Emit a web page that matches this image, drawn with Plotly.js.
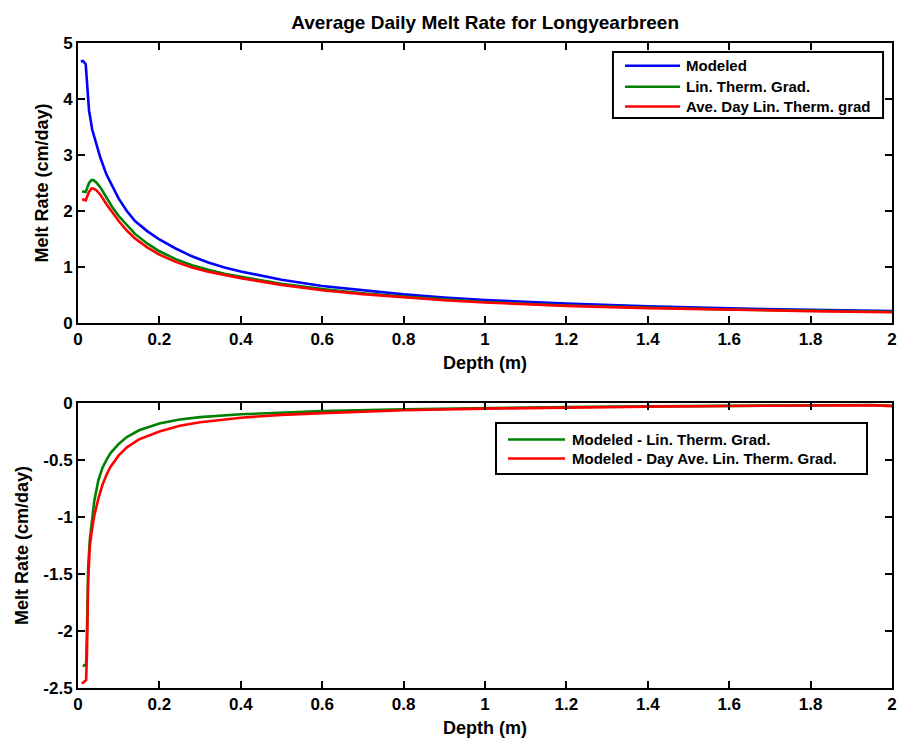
<!DOCTYPE html>
<html>
<head>
<meta charset="utf-8">
<script src="https://cdn.plot.ly/plotly-3.0.1.min.js"></script>
<style>html,body{margin:0;padding:0;background:#fff;}#chart{width:900px;height:740px;}</style>
</head>
<body>
<div id="chart"></div>
<script>
// ---- Top panel data (Melt rate, cm/day) ----
const depthModeled = [0.007, 0.012, 0.019, 0.022, 0.027, 0.035, 0.045, 0.055, 0.07, 0.085, 0.1, 0.12, 0.14, 0.17, 0.2, 0.24, 0.28, 0.32, 0.36, 0.4, 0.5, 0.6, 0.7, 0.8, 0.9, 1.0, 1.2, 1.4, 1.6, 1.8, 2.0];
const modeled = [4.67, 4.68, 4.62, 4.3, 3.8, 3.45, 3.18, 2.95, 2.65, 2.42, 2.22, 2.0, 1.82, 1.64, 1.49, 1.33, 1.19, 1.08, 0.99, 0.92, 0.77, 0.66, 0.58, 0.51, 0.455, 0.41, 0.345, 0.295, 0.26, 0.235, 0.21];

const depthLin = [0.01, 0.014, 0.019, 0.022, 0.027, 0.033, 0.038, 0.045, 0.055, 0.07, 0.085, 0.1, 0.12, 0.14, 0.17, 0.2, 0.24, 0.28, 0.32, 0.36, 0.4, 0.5, 0.6, 0.7, 0.8, 0.9, 1.0, 1.2, 1.4, 1.6, 1.8, 2.0];
const linTherm = [2.35, 2.34, 2.34, 2.4, 2.5, 2.55, 2.55, 2.51, 2.42, 2.24, 2.06, 1.91, 1.74, 1.59, 1.42, 1.28, 1.14, 1.03, 0.95, 0.88, 0.825, 0.7, 0.605, 0.53, 0.47, 0.42, 0.375, 0.31, 0.27, 0.24, 0.22, 0.2];
const aveDayLin = [2.21, 2.2, 2.19, 2.25, 2.34, 2.4, 2.4, 2.37, 2.29, 2.12, 1.96, 1.82, 1.65, 1.51, 1.35, 1.22, 1.09, 0.99, 0.915, 0.855, 0.8, 0.68, 0.585, 0.515, 0.455, 0.405, 0.365, 0.305, 0.265, 0.235, 0.21, 0.19];

// ---- Bottom panel data (differences, cm/day) ----
const depthDiffLin = [0.012, 0.016, 0.02, 0.022, 0.025, 0.029, 0.034, 0.04, 0.05, 0.06, 0.07, 0.08, 0.1, 0.12, 0.15, 0.2, 0.25, 0.3, 0.4, 0.5, 0.6, 0.8, 1.0, 1.2, 1.4, 1.6, 1.8, 1.95, 2.0];
const diffLin = [-2.31, -2.3, -2.29, -2.0, -1.44, -1.2, -1.03, -0.86, -0.68, -0.57, -0.5, -0.44, -0.36, -0.3, -0.24, -0.18, -0.145, -0.125, -0.1, -0.083, -0.072, -0.057, -0.045, -0.036, -0.03, -0.025, -0.02, -0.018, -0.025];
const depthDiffDay = [0.009, 0.014, 0.02, 0.022, 0.025, 0.029, 0.034, 0.04, 0.05, 0.06, 0.07, 0.08, 0.1, 0.12, 0.15, 0.2, 0.25, 0.3, 0.4, 0.5, 0.6, 0.8, 1.0, 1.2, 1.4, 1.6, 1.8, 1.95, 2.0];
const diffDay = [-2.46, -2.45, -2.43, -2.2, -1.55, -1.26, -1.12, -0.99, -0.84, -0.72, -0.63, -0.56, -0.46, -0.39, -0.32, -0.25, -0.2, -0.17, -0.13, -0.105, -0.09, -0.065, -0.05, -0.04, -0.033, -0.027, -0.022, -0.02, -0.028];

// ---- Labels ----
const topNames = ["Modeled", "Lin. Therm. Grad.", "Ave. Day Lin. Therm. grad"];
const bottomNames = ["Modeled - Lin. Therm. Grad.", "Modeled - Day Ave. Lin. Therm. Grad."];
const bottomTickVals = [-2.5, -2, -1.5, -1, -0.5, 0];
const bottomTickText = ["-2.5", "-2", "-1.5", "-1", "-0.5", "0"];

const FONT = "Liberation Sans, Arial, Helvetica, sans-serif";
const BLUE = "rgb(0,0,255)", GREEN = "rgb(0,128,0)", RED = "rgb(255,0,0)";
const LW = 2.6;

const traces = [
  {x: depthModeled, y: modeled, name: topNames[0], type: "scatter", mode: "lines", line: {color: BLUE, width: LW}, xaxis: "x", yaxis: "y"},
  {x: depthLin, y: linTherm, name: topNames[1], type: "scatter", mode: "lines", line: {color: GREEN, width: LW}, xaxis: "x", yaxis: "y"},
  {x: depthLin, y: aveDayLin, name: topNames[2], type: "scatter", mode: "lines", line: {color: RED, width: LW}, xaxis: "x", yaxis: "y"},
  {x: depthDiffLin, y: diffLin, name: bottomNames[0], type: "scatter", mode: "lines", line: {color: GREEN, width: LW}, xaxis: "x2", yaxis: "y2"},
  {x: depthDiffDay, y: diffDay, name: bottomNames[1], type: "scatter", mode: "lines", line: {color: RED, width: LW}, xaxis: "x2", yaxis: "y2"}
];

const tickFont = {family: FONT, size: 17, color: "#000", weight: "bold"};
const labFont = {family: FONT, size: 18, color: "#000", weight: "bold"};
const legFont = {family: FONT, size: 15, color: "#000", weight: "bold"};

function axisBase() {
  return {
    showline: true, linecolor: "#000", linewidth: 2, mirror: "ticks",
    ticks: "inside", ticklen: 7, tickwidth: 2, tickcolor: "#000",
    showgrid: false, zeroline: false, tickfont: tickFont
  };
}

// Manual legend boxes (paper coordinates)
function legendBox(x0, x1, y0, y1, lineX0, lineX1, textX, rowsY, names, colors) {
  const shapes = [{type: "rect", xref: "paper", yref: "paper", x0: x0, x1: x1, y0: y0, y1: y1, line: {color: "#000", width: 2}, fillcolor: "#fff", layer: "above"}];
  const annos = [];
  names.forEach((n, i) => {
    shapes.push({type: "line", xref: "paper", yref: "paper", x0: lineX0, x1: lineX1, y0: rowsY[i], y1: rowsY[i], line: {color: colors[i], width: LW}, layer: "above"});
    annos.push({xref: "paper", yref: "paper", x: textX, y: rowsY[i], xanchor: "left", yanchor: "middle", text: n, showarrow: false, font: legFont});
  });
  return {shapes, annos};
}
const L1 = legendBox(0.6572, 0.989, 0.8837, 0.986, 0.672, 0.7396, 0.7445, [0.9648, 0.9322, 0.9016], topNames, [BLUE, GREEN, RED]);
const L2 = legendBox(0.5135, 0.9693, 0.3318, 0.4109, 0.5283, 0.5983, 0.6045, [0.3853, 0.3558], bottomNames, [GREEN, RED]);

const layout = {
  width: 900, height: 740,
  margin: {l: 78, r: 8, t: 43, b: 52},
  paper_bgcolor: "#fff", plot_bgcolor: "#fff",
  font: {family: FONT, color: "#000"},
  title: {text: "Average Daily Melt Rate for Longyearbreen", font: {family: FONT, size: 19, color: "#000", weight: "bold"}, x: 0.539, xanchor: "center", y: 0.97, yanchor: "middle"},
  showlegend: false,
  xaxis: Object.assign(axisBase(), {domain: [0, 1], range: [0, 2], dtick: 0.2, tick0: 0, anchor: "y", title: {text: "Depth (m)", font: labFont, standoff: 8}}),
  yaxis: Object.assign(axisBase(), {domain: [0.566, 1], range: [0, 5], dtick: 1, tick0: 0, anchor: "x", title: {text: "Melt Rate (cm/day)", font: labFont, standoff: 10}}),
  xaxis2: Object.assign(axisBase(), {domain: [0, 1], range: [0, 2], dtick: 0.2, tick0: 0, anchor: "y2", title: {text: "Depth (m)", font: labFont, standoff: 8}}),
  yaxis2: Object.assign(axisBase(), {domain: [0, 0.442], range: [-2.5, 0], tickvals: bottomTickVals, ticktext: bottomTickText, anchor: "x2", title: {text: "Melt Rate (cm/day)", font: labFont, standoff: 10}}),
  shapes: L1.shapes.concat(L2.shapes),
  annotations: L1.annos.concat(L2.annos)
};

Plotly.newPlot("chart", traces, layout, {displayModeBar: false, staticPlot: true});
</script>
</body>
</html>
